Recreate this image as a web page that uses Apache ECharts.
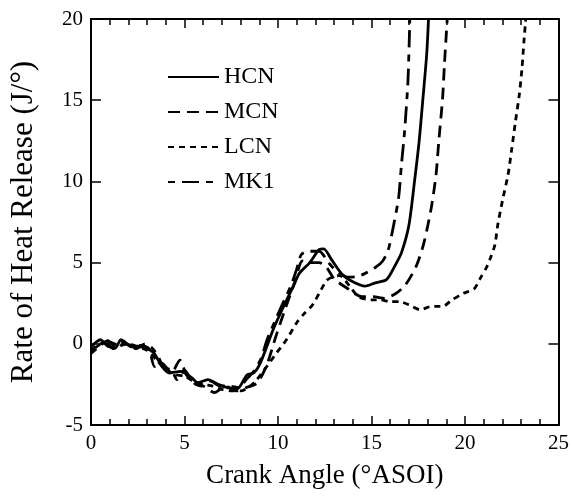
<!DOCTYPE html>
<html>
<head>
<meta charset="utf-8">
<script src="https://cdn.jsdelivr.net/npm/echarts@6/dist/echarts.min.js"></script>
<style>
  html, body { margin: 0; padding: 0; background: #fff; }
  #chart { width: 572px; height: 498px; }
</style>
</head>
<body>
<div id="chart"></div>
<script>
// Rate of heat release vs crank angle for four fuels
const seriesNames = ['HCN', 'MCN', 'LCN', 'MK1'];

const hcnAngle = [0, 0.5, 0.9, 1.3, 1.6, 2.0, 2.5, 2.9, 3.35, 3.8, 4.2, 4.8, 5.4, 5.7, 6.25, 6.8, 7.3, 7.8, 8.35, 8.7, 9.05, 9.75, 10.3, 10.8, 11.15, 11.7, 12.2, 12.45, 12.85, 13.45, 13.95, 14.65, 15.2, 15.8, 16.25, 16.6, 17.0, 17.3, 17.55, 17.75, 17.95, 18.05];
const hcnRate  = [-0.2, 0.25, -0.15, -0.25, 0.25, -0.05, -0.15, -0.25, -0.55, -1.4, -1.8, -1.7, -2.1, -2.4, -2.2, -2.5, -2.7, -2.8, -1.9, -1.8, -1.2, 0.9, 2.3, 3.5, 4.35, 5.0, 5.8, 5.85, 5.2, 4.25, 3.85, 3.55, 3.75, 3.95, 4.8, 5.6, 7.3, 10.0, 12.5, 15.1, 17.8, 20];

const mcnAngle = [0, 0.4, 0.8, 1.2, 1.7, 2.2, 2.7, 3.1, 3.4, 3.8, 4.3, 4.75, 5.1, 5.6, 6.0, 6.6, 7.2, 7.8, 8.3, 8.9, 9.4, 9.9, 10.4, 10.9, 11.3, 11.7, 12.2, 12.6, 13.0, 13.6, 14.5, 15.1, 15.7, 16.3, 16.8, 17.4, 17.8, 18.2, 18.45, 18.6, 18.8, 18.9, 19.05];
const mcnRate  = [-0.5, -0.1, 0.1, -0.3, 0.1, -0.2, -0.1, -0.3, -1.4, -1.2, -1.8, -1.0, -1.9, -2.5, -2.6, -3.0, -2.6, -2.9, -2.7, -2.4, -1.3, 0.5, 2.2, 3.8, 5.1, 5.0, 5.0, 4.7, 4.0, 3.5, 2.9, 2.9, 2.8, 3.1, 3.6, 4.8, 6.2, 8.4, 10.4, 12.5, 15.1, 17.2, 20];

const lcnAngle = [0, 0.5, 1.0, 1.5, 2.0, 2.5, 3.0, 3.5, 4.0, 4.5, 5.0, 5.5, 6.0, 6.5, 7.0, 7.5, 8.0, 8.4, 8.8, 9.4, 9.9, 10.45, 11.0, 11.35, 11.85, 12.2, 12.6, 12.9, 13.3, 13.8, 14.3, 15.0, 15.5, 16.0, 16.5, 17.0, 17.6, 18.2, 18.8, 19.3, 19.9, 20.5, 20.8, 21.15, 21.4, 21.6, 21.75, 22.0, 22.3, 22.5, 22.7, 22.9, 23.05, 23.15, 23.25];
const lcnRate  = [-0.4, 0.0, 0.1, -0.1, 0.0, -0.2, -0.4, -1.0, -1.6, -1.9, -2.0, -2.3, -2.5, -2.6, -2.8, -2.9, -2.9, -2.7, -2.3, -1.4, -0.6, 0.25, 1.3, 1.8, 2.4, 3.1, 3.9, 4.1, 4.2, 3.6, 2.9, 2.7, 2.7, 2.6, 2.6, 2.4, 2.1, 2.3, 2.3, 2.7, 3.1, 3.4, 4.0, 4.7, 5.4, 6.1, 7.3, 8.8, 10.4, 12.0, 13.7, 15.3, 17.0, 18.6, 20];

const mk1Angle = [0, 0.4, 0.9, 1.4, 1.9, 2.4, 2.9, 3.3, 3.6, 3.9, 4.3, 4.6, 5.0, 5.4, 5.9, 6.4, 6.9, 7.4, 7.9, 8.3, 8.7, 9.1, 9.4, 9.8, 10.3, 10.7, 11.0, 11.25, 11.7, 12.2, 12.7, 13.2, 13.8, 14.4, 15.2, 15.6, 15.9, 16.2, 16.45, 16.6, 16.77, 16.95, 17.05];
const mk1Rate  = [-0.6, -0.2, 0.2, -0.3, 0.2, -0.3, 0.0, -0.3, -0.8, -1.5, -1.6, -2.2, -1.6, -2.3, -2.6, -2.3, -2.6, -2.6, -2.7, -2.2, -1.7, -0.9, 0.2, 1.3, 2.6, 3.6, 4.6, 5.5, 5.7, 5.7, 5.0, 4.4, 4.1, 4.2, 4.7, 5.1, 5.8, 7.4, 9.0, 11.0, 13.1, 16.2, 20];

const xTicks = { min: 0, max: 25, interval: 5 };
const yTicks = { min: -5, max: 20, interval: 5 };

const zip = (xs, ys) => xs.map((x, i) => [x, ys[i]]);

const serif = '"Liberation Serif", "DejaVu Serif", serif';
const ink = '#000';

// dash patterns in pixels; MK1 starts on its short dash
const lineDefs = [
  { name: 'HCN', data: zip(hcnAngle, hcnRate), dash: 'solid', offset: 0 },
  { name: 'MCN', data: zip(mcnAngle, mcnRate), dash: [12, 7], offset: 0 },
  { name: 'LCN', data: zip(lcnAngle, lcnRate), dash: [6, 5], offset: 0 },
  { name: 'MK1', data: zip(mk1Angle, mk1Rate), dash: [7, 7, 17, 7], offset: 0 }
];

const frameAxis = (extra) => Object.assign({
  type: 'value',
  axisLine: { show: true, onZero: false, lineStyle: { color: ink, width: 2 } },
  splitLine: { show: false }
}, extra);

const chart = echarts.init(document.getElementById('chart'), null, { renderer: 'canvas' });

chart.setOption({
  backgroundColor: '#fff',
  animation: false,
  grid: { left: 88, right: 9, top: 19, bottom: 73, containLabel: false },
  legend: {
    data: seriesNames,
    orient: 'vertical',
    left: 162,
    top: 60,
    itemWidth: 51,
    itemHeight: 22,
    itemGap: 11,
    itemStyle: { opacity: 0, borderWidth: 0 },
    textStyle: { fontFamily: serif, fontSize: 24, color: ink, padding: [0, 0, 0, 0] }
  },
  xAxis: [
    frameAxis({
      min: xTicks.min, max: xTicks.max, interval: xTicks.interval,
      position: 'bottom',
      name: 'Crank Angle (°ASOI)',
      nameLocation: 'middle',
      nameGap: 37,
      nameTextStyle: { fontFamily: serif, fontSize: 27, color: ink },
      axisTick: { show: true, inside: true, length: 9, lineStyle: { color: ink, width: 1.5 } },
      minorTick: { show: true, splitNumber: 5, length: 6, lineStyle: { color: ink, width: 1.5 } },
      axisLabel: { fontFamily: serif, fontSize: 21, color: ink, margin: 8 }
    }),
    frameAxis({
      min: xTicks.min, max: xTicks.max, interval: xTicks.interval,
      position: 'top',
      axisTick: { show: true, inside: true, length: 9, lineStyle: { color: ink, width: 1.5 } },
      minorTick: { show: true, splitNumber: 5, length: 6, lineStyle: { color: ink, width: 1.5 } },
      axisLabel: { show: false }
    })
  ],
  yAxis: [
    frameAxis({
      min: yTicks.min, max: yTicks.max, interval: yTicks.interval,
      position: 'left',
      name: 'Rate of Heat Release (J/°)',
      nameLocation: 'middle',
      nameGap: 52,
      nameTextStyle: { fontFamily: serif, fontSize: 31, color: ink },
      axisTick: { show: true, inside: true, length: 10, lineStyle: { color: ink, width: 1.5 } },
      axisLabel: { fontFamily: serif, fontSize: 21, color: ink, margin: 8 }
    }),
    frameAxis({
      min: yTicks.min, max: yTicks.max, interval: yTicks.interval,
      position: 'right',
      axisTick: { show: true, inside: true, length: 10, lineStyle: { color: ink, width: 1.5 } },
      axisLabel: { show: false }
    })
  ],
  series: lineDefs.map(d => ({
    name: d.name,
    type: 'line',
    xAxisIndex: 0,
    yAxisIndex: 0,
    data: d.data,
    symbol: 'none',
    smooth: 0.25,
    clip: true,
    lineStyle: { color: ink, width: 2.8, type: d.dash, dashOffset: d.offset },
    itemStyle: { color: ink }
  }))
});
</script>
</body>
</html>
